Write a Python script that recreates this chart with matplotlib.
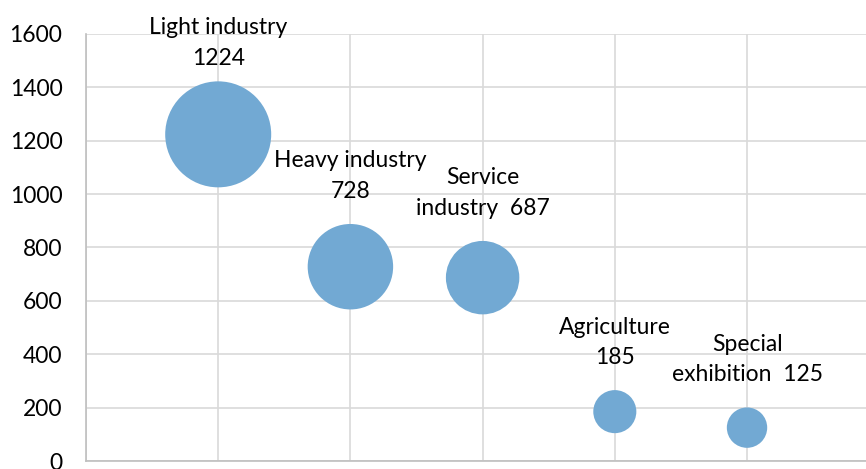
import matplotlib.pyplot as plt

# Bubble chart data
label_texts = ["Light industry\n1224", "Heavy industry\n728", "Service\nindustry  687",
               "Agriculture\n185", "Special\nexhibition  125"]
x_pos = [1, 2, 3, 4, 5]
values = [1224, 728, 687, 185, 125]
bubble_size = [100, 65, 48, 16.5, 14.5]  # relative bubble area, largest = 100
y_ticks = [0, 200, 400, 600, 800, 1000, 1200, 1400, 1600]

plt.rcParams["font.family"] = ["Lato", "DejaVu Sans"]

fig = plt.figure(figsize=(8.66, 4.69), dpi=100)
ax = fig.add_axes([86 / 866, 8 / 469, 780 / 866, 427 / 469])

grid_color = "#D9D9D9"
bubble_color = "#72A9D3"

# largest bubble is ~106 px across -> area in points^2
max_diam_pt = 106 * 0.72
sizes = [s / 100 * max_diam_pt ** 2 for s in bubble_size]

ax.scatter(x_pos, values, s=sizes, color=bubble_color, edgecolors="none", zorder=3)

# label offsets above each bubble (points)
gaps = [9, 16, 16, 16, 16]
for x, y, s, txt, g in zip(x_pos, values, sizes, label_texts, gaps):
    r = s ** 0.5 / 2
    ax.annotate(txt, (x, y), xytext=(0, r + g), textcoords="offset points",
                ha="center", va="bottom", fontsize=16.5, linespacing=1.55,
                annotation_clip=False, zorder=4)

ax.set_xlim(0, 5.9)
ax.set_ylim(0, 1600)
ax.set_yticks(y_ticks)
ax.set_xticks([0, 1, 2, 3, 4, 5])
ax.tick_params(axis="x", length=0, labelbottom=False)
ax.tick_params(axis="y", length=0, pad=17, labelsize=16.5)
ax.grid(True, color=grid_color, linewidth=1.2, zorder=0)
ax.set_axisbelow(True)
for side in ["top", "right"]:
    ax.spines[side].set_visible(False)
for side in ["left", "bottom"]:
    ax.spines[side].set_color("#BFBFBF")
    ax.spines[side].set_linewidth(1.2)

fig.savefig("out.png", dpi=100)
